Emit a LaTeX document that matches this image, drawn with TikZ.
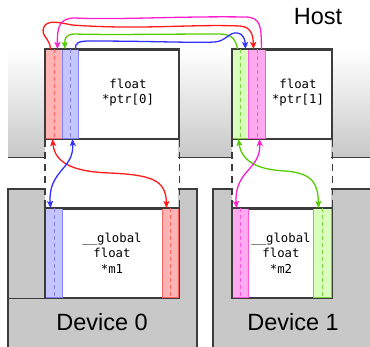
\documentclass[tikz,border=0pt]{standalone}
\usepackage{fontspec}
\setmainfont{Liberation Sans}
\newfontfamily\codefont{DejaVu Sans Mono}
\usetikzlibrary{arrows.meta,calc}
\definecolor{cred}{HTML}{FF1A1A}
\definecolor{credfill}{HTML}{FFB3B3}
\definecolor{credline}{HTML}{FF6060}
\definecolor{cblue}{HTML}{3030FF}
\definecolor{cbluefill}{HTML}{C4C4FF}
\definecolor{cblueline}{HTML}{8080FF}
\definecolor{cgreen}{HTML}{55CC00}
\definecolor{cgreenfill}{HTML}{D8FFBC}
\definecolor{cgreenline}{HTML}{80D040}
\definecolor{cpink}{HTML}{FF1ECC}
\definecolor{cpinkfill}{HTML}{FFAAEE}
\definecolor{cpinkline}{HTML}{FF55DD}
\definecolor{devgray}{HTML}{C8C8C8}
\definecolor{edge}{HTML}{3C3C3C}
\begin{document}
\begin{tikzpicture}[x=1pt,y=-1pt,
  membox/.style={draw=edge,line width=1.5pt,fill=white,inner sep=0pt,minimum height=89pt,anchor=north west},
  stripe/.style={inner sep=0pt,minimum height=89pt,anchor=north west,line width=1pt},
  codetext/.style={font=\codefont\fontsize{12.3}{15.5}\selectfont,align=center,inner sep=0pt},
  biglabel/.style={font=\fontsize{23.5}{26}\selectfont,inner sep=0pt},
  guide/.style={draw=edge,line width=1.3pt,dash pattern=on 7pt off 5pt},
  outline/.style={draw=edge,line width=1.3pt},
  link/.style={line width=1.3pt,-{Stealth[length=7pt,width=6pt,inset=1.5pt]}},
  dlink/.style={line width=1.3pt,{Stealth[length=7pt,width=6pt,inset=1.5pt]}-{Stealth[length=7pt,width=6pt,inset=1.5pt]}}
]
\useasboundingbox (0,0) rectangle (370,346);

% host background
\shade[top color=white,bottom color=devgray,shading angle=0] (8,50) rectangle (370,157);
\fill[white] (45,138) rectangle (178,158);
\fill[white] (232,138) rectangle (331,158);
\draw[outline] (8,157.5) -- (45,157.5);
\draw[outline] (178,157.5) -- (232,157.5);
\draw[outline] (331,157.5) -- (370,157.5);
\node[biglabel] (host) at (318,17) {Host};

% devices background
\fill[devgray] (8,189) rectangle (197,347);
\fill[devgray] (213,189) rectangle (371,347);
\fill[white] (45,188) rectangle (178,208);
\fill[white] (232,188) rectangle (331,208);
\draw[outline] (8,347) -- (8,189) -- (45,189);
\draw[outline] (178,189) -- (197,189) -- (197,347);
\draw[outline] (213,347) -- (213,189) -- (232,189);
\draw[outline] (331,189) -- (371,189);
\draw[edge,line width=0.8pt] (8,298) -- (45,298);
\node[biglabel] (dev0) at (102,322) {Device 0};
\node[biglabel] (dev1) at (293,322) {Device 1};

% host boxes
\node[membox,minimum width=133pt] (hp0) at (45,49) {};
\node[stripe,minimum width=17pt,fill=credfill,draw=credline] (hr0) at (45,49) {};
\node[stripe,minimum width=16pt,fill=cbluefill,draw=cblueline] (hb0) at (62,49) {};
\draw[edge,line width=1.5pt] (hp0.north west) rectangle (hp0.south east);
\node[codetext] (t0) at (128,92.5) {float\\*ptr[0]};

\node[membox,minimum width=99pt] (hp1) at (232,49) {};
\node[stripe,minimum width=16pt,fill=cgreenfill,draw=cgreenline] (hg1) at (232,49) {};
\node[stripe,minimum width=17pt,fill=cpinkfill,draw=cpinkline] (hm1) at (248,49) {};
\draw[edge,line width=1.5pt] (hp1.north west) rectangle (hp1.south east);
\node[codetext] (t1) at (298,92.5) {float\\*ptr[1]};

% device boxes
\node[membox,minimum width=133pt] (dm0) at (45,208) {};
\node[stripe,minimum width=17pt,fill=cbluefill,draw=cblueline] (db0) at (45,208) {};
\node[stripe,minimum width=16pt,fill=credfill,draw=credline] (dr0) at (162,208) {};
\draw[edge,line width=1.5pt] (dm0.north west) rectangle (dm0.south east);
\node[codetext] (t2) at (112,253) {\_\_global\\float\\*m1};

\node[membox,minimum width=99pt] (dm1) at (232,208) {};
\node[stripe,minimum width=16pt,fill=cpinkfill,draw=cpinkline] (dp1) at (232,208) {};
\node[stripe,minimum width=18pt,fill=cgreenfill,draw=cgreenline] (dg1) at (313,208) {};
\draw[edge,line width=1.5pt] (dm1.north west) rectangle (dm1.south east);
\node[codetext] (t3) at (281,253) {\_\_global\\float\\*m2};

% dashed centre lines in stripes
\foreach \s/\c in {hr0/credline,hb0/cblueline,hg1/cgreenline,hm1/cpinkline,db0/cblueline,dr0/credline,dp1/cpinkline,dg1/cgreenline}
  \draw[\c,line width=1pt,dash pattern=on 4pt off 3pt] (\s.north) -- (\s.south);

% guides
\draw[guide] (hp0.south west) -- (dm0.north west);
\draw[guide] (hp0.south east) -- (dm0.north east);
\draw[guide] (hp1.south west) -- (dm1.north west);
\draw[guide] (hp1.south east) -- (dm1.north east);

% top links
\draw[link,cred] ([xshift=-3.5pt]hr0.north) .. controls (50,38) and (40,36) .. (44,27)
  .. controls (47,20) and (58,22) .. (72,25)
  .. controls (140,30) and (190,24) .. (240,26)
  .. controls (252,27) and (253,36) .. ([xshift=-3.5pt]hm1.north);
\draw[link,cpink] ([xshift=4.5pt]hm1.north) .. controls (261,28) and (262,17) .. (245,17)
  .. controls (180,16) and (120,20) .. (75,18)
  .. controls (60,18) and (57,26) .. ([xshift=3.5pt]hr0.north);
\draw[link,cgreen] ([xshift=-3pt]hg1.north) .. controls (236,40) and (232,34) .. (220,34)
  .. controls (160,34) and (110,35) .. (75,34)
  .. controls (66,34) and (64.5,38) .. ([xshift=-5.5pt]hb0.north);
\draw[link,cblue] ([xshift=5pt]hb0.north) .. controls (75,43) and (78,41) .. (90,41)
  .. controls (150,41) and (190,43) .. (215,42)
  .. controls (226,41) and (229,32) .. (237,33)
  .. controls (244,34) and (245,40) .. ([xshift=5pt]hg1.north);

% middle links
\draw[dlink,cred] ([xshift=-1.5pt]hr0.south) .. controls (55,166) and (80,172) .. (110,173)
  .. controls (152,175) and (166,180) .. ([xshift=-4pt]dr0.north);
\draw[dlink,cblue] ([xshift=2pt]hb0.south) .. controls (74,170) and (48,170) .. ([xshift=-3.5pt]db0.north);
\draw[dlink,cgreen] ([xshift=-2pt]hg1.south) .. controls (242,165) and (265,170) .. (285,171)
  .. controls (314,173) and (318,185) .. ([xshift=-4pt]dg1.north);
\draw[dlink,cpink] ([xshift=2.5pt]hm1.south) .. controls (261,170) and (234,170) .. ([xshift=-4pt]dp1.north);
\end{tikzpicture}
\end{document}
